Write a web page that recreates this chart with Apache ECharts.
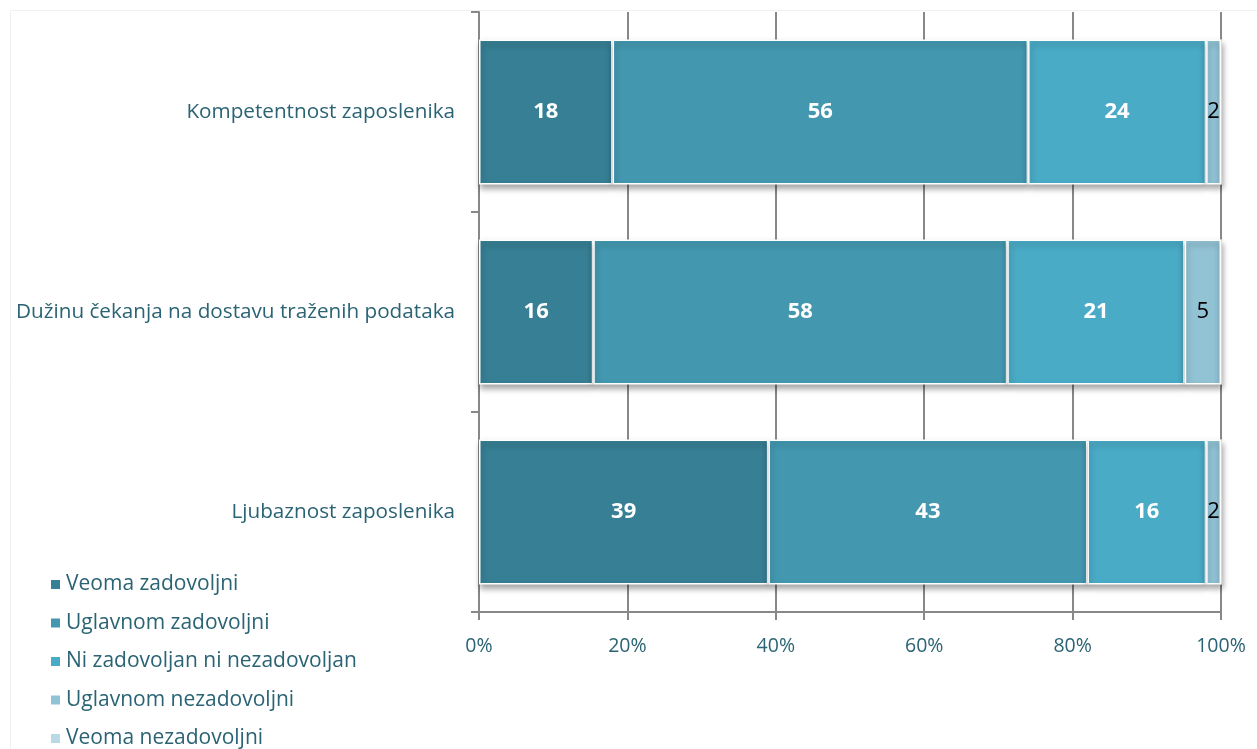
<!DOCTYPE html>
<html>
<head>
<meta charset="utf-8">
<script src="https://cdn.jsdelivr.net/npm/echarts@6/dist/echarts.min.js"></script>
<style>html,body{margin:0;padding:0;background:#fff}#c{width:1257px;height:749px}</style>
</head>
<body>
<div id="c"></div>
<script>
// Categories (top to bottom)
const categories = ['Kompetentnost zaposlenika', 'Dužinu čekanja na dostavu traženih podataka', 'Ljubaznost zaposlenika'];
const seriesNames = ['Veoma zadovoljni', 'Uglavnom zadovoljni', 'Ni zadovoljan ni nezadovoljan', 'Uglavnom nezadovoljni', 'Veoma nezadovoljni'];
// Bar segment shares (% of bar length)
const veomaZadovoljni = [18, 15.4, 39];
const uglavnomZadovoljni = [56, 55.8, 43];
const niZadovoljan = [24, 23.9, 16];
const uglavnomNezadovoljni = [2, 4.9, 2];
const veomaNezadovoljni = [0, 0, 0];
// Printed data labels
const labelsVeomaZadovoljni = [18, 16, 39];
const labelsUglavnomZadovoljni = [56, 58, 43];
const labelsNiZadovoljan = [24, 21, 16];
const labelsUglavnomNezadovoljni = [2, 5, 2];
const labelsVeomaNezadovoljni = ['', '', ''];
const xTicks = [0, 20, 40, 60, 80, 100];

const colors = ['#377f94', '#4398b0', '#4aabc6', '#92c3d5', '#b9d9e4'];
const values = [veomaZadovoljni, uglavnomZadovoljni, niZadovoljan, uglavnomNezadovoljni, veomaNezadovoljni];
const labels = [labelsVeomaZadovoljni, labelsUglavnomZadovoljni, labelsNiZadovoljan, labelsUglavnomNezadovoljni, labelsVeomaNezadovoljni];
const FONT = 'Open Sans';
const textColor = '#2a6373';

const chart = echarts.init(document.getElementById('c'));
const series = seriesNames.map((name, si) => ({
  name,
  type: 'bar',
  stack: 'total',
  barWidth: '72.5%',
  data: values[si],
  itemStyle: {
    color: colors[si],
    borderColor: '#ffffff',
    borderWidth: 1.5,
    shadowColor: 'rgba(0,0,0,0.35)',
    shadowBlur: 6,
    shadowOffsetY: 4,
    shadowOffsetX: 1
  },
  label: {
    show: si < 4,
    position: 'inside',
    fontFamily: FONT,
    fontSize: 22,
    fontWeight: si < 3 ? 'bold' : 'normal',
    color: si < 3 ? '#ffffff' : '#000000',
    formatter: p => String(labels[si][p.dataIndex])
  }
}));

chart.setOption({
  animation: false,
  textStyle: { fontFamily: FONT },
  graphic: [{
    type: 'rect',
    shape: { x: 10.5, y: 10.5, width: 1260, height: 760 },
    style: { fill: 'none', stroke: '#f0f0f0', lineWidth: 1 },
    silent: true
  }],
  legend: {
    orient: 'vertical',
    left: 44,
    top: 569,
    height: 200,
    itemWidth: 11,
    itemHeight: 11,
    itemGap: 17.5,
    icon: 'rect',
    data: seriesNames,
    textStyle: { fontFamily: FONT, fontSize: 21, color: textColor }
  },
  grid: { left: 479, right: 36, top: 12, bottom: 137, containLabel: false },
  xAxis: {
    type: 'value',
    min: 0,
    max: 100,
    interval: 20,
    axisLine: { show: true, lineStyle: { color: '#888888', width: 2 } },
    axisTick: { show: true, length: 8, lineStyle: { color: '#888888', width: 2 } },
    splitLine: { show: true, lineStyle: { color: '#888888', width: 2 } },
    axisLabel: {
      margin: 24,
      fontFamily: FONT,
      fontSize: 19.5,
      color: textColor,
      formatter: v => xTicks.includes(v) ? v + '%' : ''
    }
  },
  yAxis: {
    type: 'category',
    inverse: true,
    data: categories,
    axisLine: { show: true, lineStyle: { color: '#888888', width: 2 } },
    axisTick: { show: true, length: 8, lineStyle: { color: '#888888', width: 2 } },
    axisLabel: { margin: 24, fontFamily: FONT, fontSize: 20.7, color: textColor, padding: [4, 0, 0, 0] }
  },
  series
});
</script>
</body>
</html>
